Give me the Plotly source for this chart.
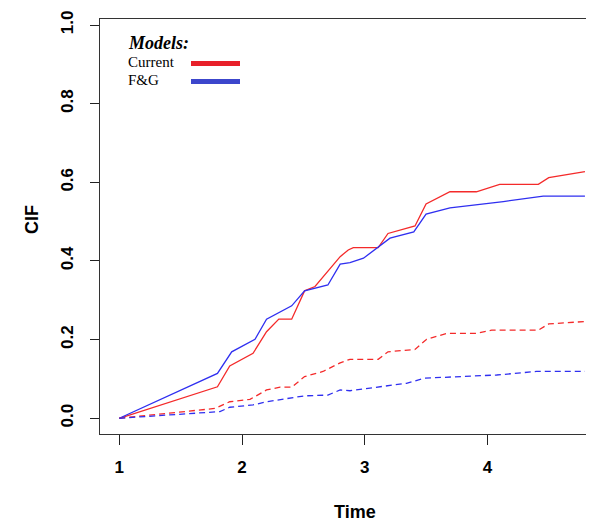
import plotly.graph_objects as go

# ---- data ----
cur_x = [1.0, 1.80, 1.90, 2.09, 2.20, 2.30, 2.405, 2.51, 2.595, 2.70, 2.80, 2.866, 2.907, 3.11, 3.19, 3.41, 3.50, 3.695, 3.91, 4.10, 4.415, 4.50, 4.795]
cur_y = [0.0, 0.080, 0.133, 0.165, 0.220, 0.252, 0.252, 0.324, 0.335, 0.373, 0.411, 0.428, 0.434, 0.434, 0.470, 0.489, 0.545, 0.576, 0.576, 0.595, 0.595, 0.612, 0.627]

fg_x = [1.0, 1.80, 1.916, 2.106, 2.20, 2.405, 2.51, 2.70, 2.80, 2.88, 2.99, 3.10, 3.206, 3.40, 3.50, 3.695, 4.13, 4.455, 4.795]
fg_y = [0.0, 0.114, 0.169, 0.201, 0.252, 0.286, 0.324, 0.339, 0.392, 0.396, 0.407, 0.432, 0.458, 0.474, 0.519, 0.535, 0.551, 0.565, 0.565]

cur2_x = [1.0, 1.78, 1.90, 2.065, 2.20, 2.31, 2.405, 2.51, 2.66, 2.80, 2.88, 3.11, 3.19, 3.41, 3.505, 3.67, 3.91, 4.035, 4.415, 4.50, 4.795]
cur2_y = [0.0, 0.025, 0.042, 0.048, 0.072, 0.079, 0.079, 0.106, 0.119, 0.141, 0.150, 0.150, 0.169, 0.175, 0.201, 0.216, 0.216, 0.224, 0.224, 0.240, 0.246]

fg2_x = [1.0, 1.82, 1.90, 2.09, 2.20, 2.405, 2.51, 2.70, 2.80, 2.88, 3.10, 3.34, 3.49, 3.75, 4.075, 4.40, 4.795]
fg2_y = [0.0, 0.017, 0.028, 0.034, 0.042, 0.053, 0.057, 0.059, 0.072, 0.070, 0.080, 0.089, 0.102, 0.106, 0.110, 0.119, 0.119]

x_ticks = [1, 2, 3, 4]
y_ticks = [0.0, 0.2, 0.4, 0.6, 0.8, 1.0]
y_tick_labels = ["0.0", "0.2", "0.4", "0.6", "0.8", "1.0"]
legend_title = "Models:"
legend_names = ["Current", "F&G"]

RED = "#f42a2a"
BLUE = "#2f2ff0"

fig = go.Figure()
fig.add_trace(go.Scatter(x=cur_x, y=cur_y, mode="lines", line=dict(color=RED, width=1.3), showlegend=False))
fig.add_trace(go.Scatter(x=fg_x, y=fg_y, mode="lines", line=dict(color=BLUE, width=1.3), showlegend=False))
fig.add_trace(go.Scatter(x=cur2_x, y=cur2_y, mode="lines", line=dict(color=RED, width=1.3, dash="6px,4px"), showlegend=False))
fig.add_trace(go.Scatter(x=fg2_x, y=fg2_y, mode="lines", line=dict(color=BLUE, width=1.3, dash="6px,4px"), showlegend=False))

OFF = 8  # page body margin
W, H = 594 - OFF, 521 - OFF
# page-pixel geometry of the plot box
box_l, box_r, box_t, box_b = 100, 594, 19, 434
ml, mr, mt, mb = box_l - OFF, 0, box_t - OFF, H - (box_b - OFF)
pw, ph = W - ml - mr, H - mt - mb

def px_x(p):
    return (p - OFF - ml) / pw

def px_y(p):
    return (H - mb - (p - OFF)) / ph

tickfont = dict(family="Liberation Sans, Arial, sans-serif", size=17, color="black", weight="bold")

fig.update_layout(
    width=W, height=H,
    margin=dict(l=ml, r=mr, t=mt, b=mb),
    paper_bgcolor="white", plot_bgcolor="white",
    xaxis=dict(range=[0.8427, 4.8688], tickmode="array", tickvals=x_ticks,
               ticks="outside", ticklen=10, tickwidth=1, tickcolor="#222",
               showline=True, linecolor="#333", linewidth=1, mirror=True,
               showgrid=False, zeroline=False, tickfont=tickfont, ticklabelstandoff=8),
    yaxis=dict(range=[-0.040, 1.0153], tickmode="array", tickvals=y_ticks, ticktext=y_tick_labels,
               ticks="outside", ticklen=9, tickwidth=1, tickcolor="#222",
               showline=True, linecolor="#333", linewidth=1, mirror=False,
               showgrid=False, zeroline=False, tickfont=tickfont, tickangle=-90, ticklabelstandoff=10),
)

titlefont = dict(family="Liberation Sans, Arial, sans-serif", size=18, color="black", weight="bold")
fig.add_annotation(text="Time", xref="paper", yref="paper", x=px_x(355), y=px_y(512),
                   showarrow=False, font=titlefont, xanchor="center", yanchor="middle")
fig.add_annotation(text="CIF", xref="paper", yref="paper", x=px_x(32), y=px_y(220),
                   showarrow=False, font=titlefont, textangle=-90, xanchor="center", yanchor="middle")

serif = "Liberation Serif, Times New Roman, serif"
fig.add_annotation(text="<b><i>" + legend_title + "</i></b>", xref="paper", yref="paper",
                   x=px_x(126), y=px_y(43), showarrow=False, xanchor="left", yanchor="middle",
                   font=dict(family=serif, size=18, color="black"))
leg_y = [62, 80]
leg_cols = ["#e8202a", "#3c46cc"]
for name, yy, col in zip(legend_names, leg_y, leg_cols):
    fig.add_annotation(text=name, xref="paper", yref="paper", x=px_x(126), y=px_y(yy),
                       showarrow=False, xanchor="left", yanchor="middle",
                       font=dict(family=serif, size=15, color="black"))
    fig.add_shape(type="line", xref="paper", yref="paper", x0=px_x(191), x1=px_x(240),
                  y0=px_y(yy + 1.5), y1=px_y(yy + 1.5), line=dict(color=col, width=5))

fig.write_html("out.html")
